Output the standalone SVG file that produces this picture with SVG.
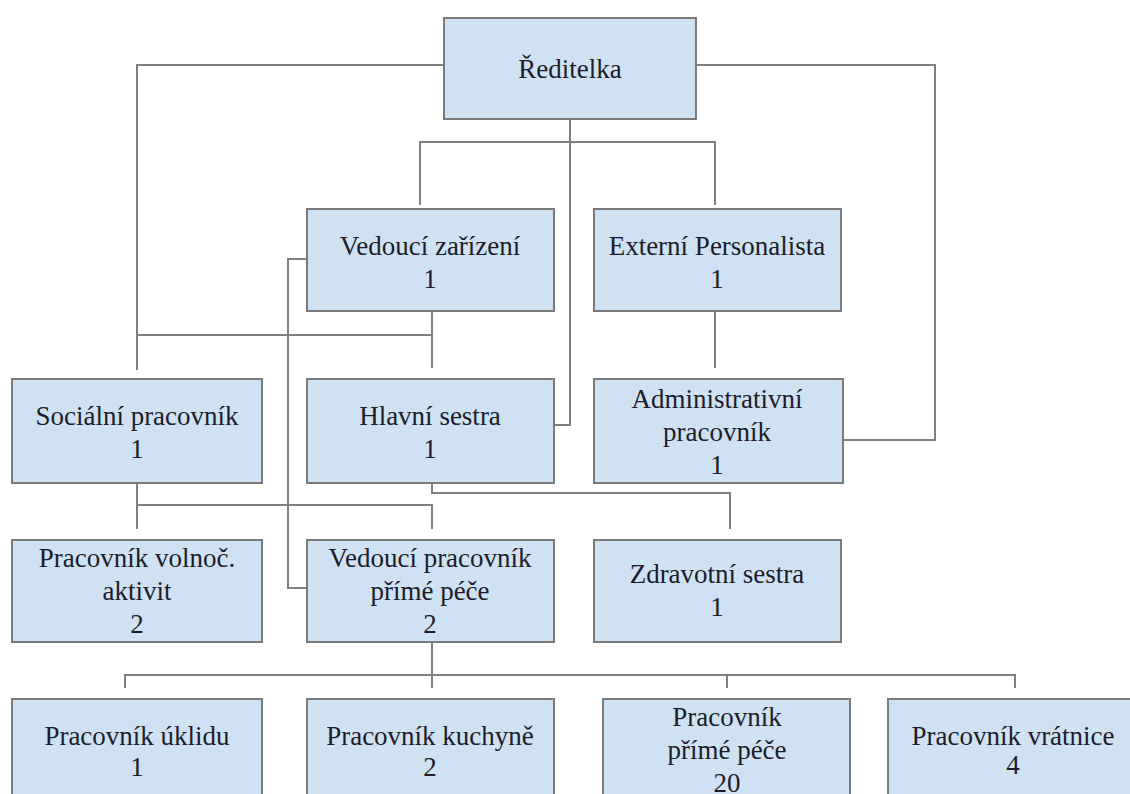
<svg xmlns="http://www.w3.org/2000/svg" width="1130" height="794" viewBox="0 0 1130 794">
<style>
.box{fill:#cfe2f3;stroke:#7a7a7a;stroke-width:2}
.t{font-size:27px;fill:#1c1c2a;text-anchor:middle}
.c{fill:none;stroke:#808080;stroke-width:2}
</style>
<rect width="1130" height="794" fill="#ffffff"/>
<g id="connectors">
<path class="c" d="M444 65 H137 V370"/>
<path class="c" d="M696 65 H935 V440 H843"/>
<path class="c" d="M570 119 V425 H554"/>
<path class="c" d="M420 205 V142 H715 V205"/>
<path class="c" d="M432 311 V368"/>
<path class="c" d="M137 335 H432"/>
<path class="c" d="M307 259 H288 V588 H307"/>
<path class="c" d="M715 311 V368"/>
<path class="c" d="M137 483 V529"/>
<path class="c" d="M137 505 H432 V529"/>
<path class="c" d="M432 483 V493 H730 V529"/>
<path class="c" d="M432 642 V688"/>
<path class="c" d="M125 688 V675 H1015 V688"/>
<path class="c" d="M727 675 V688"/>
</g>
<g font-family="Liberation Serif, Times New Roman, DejaVu Serif, serif">
<g id="reditelka"><rect class="box" x="444" y="18" width="252" height="101"/><text class="t" x="570" y="78">Ředitelka</text></g>
<g id="vedouci-zarizeni"><rect class="box" x="307" y="209" width="247" height="102"/><text class="t" x="430" y="255">Vedoucí zařízení</text><text class="t" x="430" y="288">1</text></g>
<g id="externi-personalista"><rect class="box" x="594" y="209" width="247" height="102"/><text class="t" x="717" y="255">Externí Personalista</text><text class="t" x="717" y="288">1</text></g>
<g id="socialni-pracovnik"><rect class="box" x="12" y="379" width="250" height="104"/><text class="t" x="137" y="425">Sociální pracovník</text><text class="t" x="137" y="458">1</text></g>
<g id="hlavni-sestra"><rect class="box" x="307" y="379" width="247" height="104"/><text class="t" x="430" y="425">Hlavní sestra</text><text class="t" x="430" y="458">1</text></g>
<g id="administrativni-pracovnik"><rect class="box" x="594" y="379" width="249" height="104"/><text class="t" x="717" y="408">Administrativní</text><text class="t" x="717" y="441">pracovník</text><text class="t" x="717" y="474">1</text></g>
<g id="pracovnik-volnoc"><rect class="box" x="12" y="540" width="250" height="102"/><text class="t" x="137" y="567">Pracovník volnoč.</text><text class="t" x="137" y="600">aktivit</text><text class="t" x="137" y="633">2</text></g>
<g id="vedouci-pracovnik"><rect class="box" x="307" y="540" width="247" height="102"/><text class="t" x="430" y="567">Vedoucí pracovník</text><text class="t" x="430" y="600">přímé péče</text><text class="t" x="430" y="633">2</text></g>
<g id="zdravotni-sestra"><rect class="box" x="594" y="540" width="247" height="102"/><text class="t" x="717" y="583">Zdravotní sestra</text><text class="t" x="717" y="616">1</text></g>
<g id="pracovnik-uklidu"><rect class="box" x="12" y="699" width="250" height="110"/><text class="t" x="137" y="745">Pracovník úklidu</text><text class="t" x="137" y="776">1</text></g>
<g id="pracovnik-kuchyne"><rect class="box" x="307" y="699" width="247" height="110"/><text class="t" x="430" y="745">Pracovník kuchyně</text><text class="t" x="430" y="776">2</text></g>
<g id="pracovnik-prime-pece"><rect class="box" x="603" y="699" width="247" height="110"/><text class="t" x="727" y="726">Pracovník</text><text class="t" x="727" y="759">přímé péče</text><text class="t" x="727" y="792">20</text></g>
<g id="pracovnik-vratnice"><rect class="box" x="888" y="699" width="250" height="110"/><text class="t" x="1013" y="745">Pracovník vrátnice</text><text class="t" x="1013" y="774">4</text></g>
</g>
</svg>
